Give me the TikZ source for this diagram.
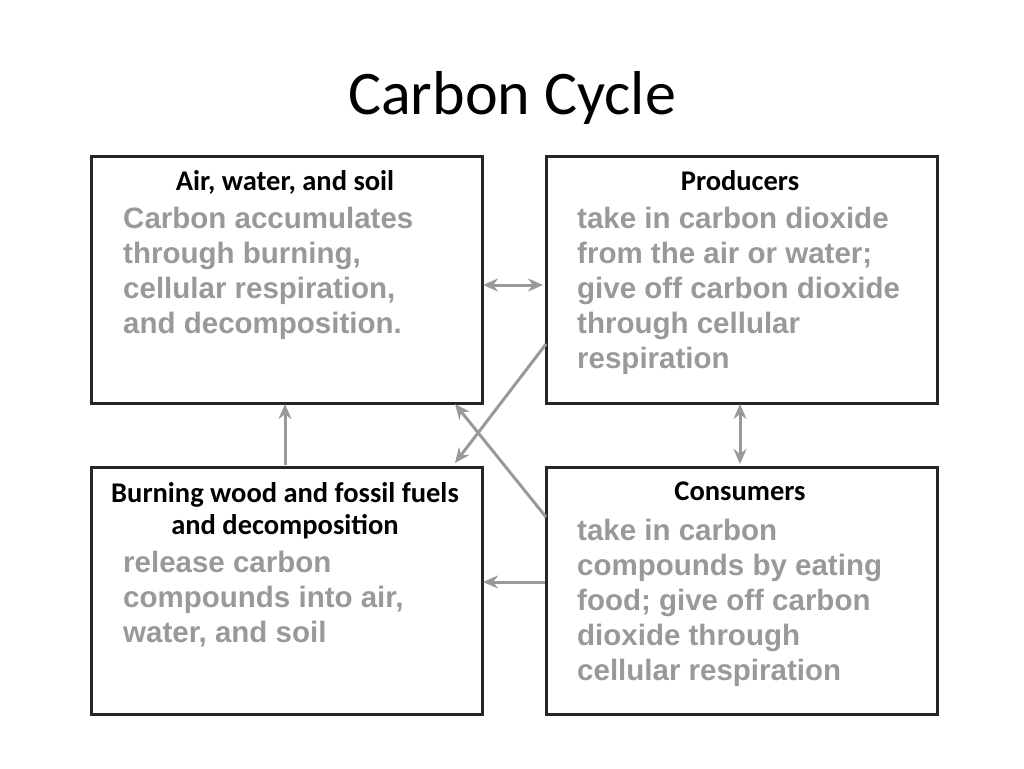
\documentclass[tikz,border=0pt]{standalone}
\usepackage{fontspec}
\setmainfont{Carlito}
\newfontfamily\bodyfont{Liberation Sans}
\usetikzlibrary{arrows.meta}
\definecolor{txtgray}{HTML}{999999}
\definecolor{arrgray}{HTML}{999999}
\begin{document}
\begin{tikzpicture}[x=1pt,y=-1pt,
  box/.style={draw=black!85,line width=3pt,minimum width=391pt,minimum height=247pt,inner sep=0pt,anchor=north west},
  head/.style={font=\fontsize{28.5}{32}\selectfont\bfseries,align=center,anchor=north,inner sep=0pt},
  body/.style={font=\bodyfont\fontsize{29.5}{35}\selectfont\bfseries,text=txtgray,align=left,anchor=north west,inner sep=0pt},
  arr/.style={draw=arrgray,line width=3pt,-{Stealth[length=15pt,width=13pt]}},
  darr/.style={draw=arrgray,line width=3pt,{Stealth[length=15pt,width=13pt]}-{Stealth[length=15pt,width=13pt]}}]
\useasboundingbox (0,0) rectangle (1024,768);
\node[font=\fontsize{62}{66}\selectfont] (title) at (512,98) {Carbon Cycle};
\node[box] (A) at (90,155) {};
\node[box] (B) at (545,155) {};
\node[box] (C) at (90,466) {};
\node[box] (D) at (545,466) {};
\node[head] (Ah) at (285,170) {Air, water, and soil};
\node[head] (Bh) at (740,170) {Producers};
\node[head] (Ch) at (285,482) {Burning wood and fossil fuels\\and decomposition};
\node[head] (Dh) at (740,482) {Consumers};
\node[body] (At) at (123,207) {Carbon accumulates\\through burning,\\cellular respiration,\\and decomposition.};
\node[body] (Bt) at (577,207) {take in carbon dioxide\\from the air or water;\\give off carbon dioxide\\through cellular\\respiration};
\node[body] (Ct) at (123,551) {release carbon\\compounds into air,\\water, and soil};
\node[body] (Dt) at (577,519) {take in carbon\\compounds by eating\\food; give off carbon\\dioxide through\\cellular respiration};
\coordinate (ab1) at (483,285); \coordinate (ab2) at (543,285);
\coordinate (bd1) at (740,404); \coordinate (bd2) at (740,464);
\coordinate (ca1) at (285,465); \coordinate (ca2) at (285,404);
\coordinate (dc1) at (545,582); \coordinate (dc2) at (483,582);
\coordinate (bc1) at (546,344); \coordinate (bc2) at (455,463);
\coordinate (da1) at (546,517); \coordinate (da2) at (455,404);
\draw[darr] (ab1) -- (ab2);
\draw[darr] (bd1) -- (bd2);
\draw[arr] (ca1) -- (ca2);
\draw[arr] (dc1) -- (dc2);
\draw[arr] (bc1) -- (bc2);
\draw[arr] (da1) -- (da2);
\end{tikzpicture}
\end{document}
